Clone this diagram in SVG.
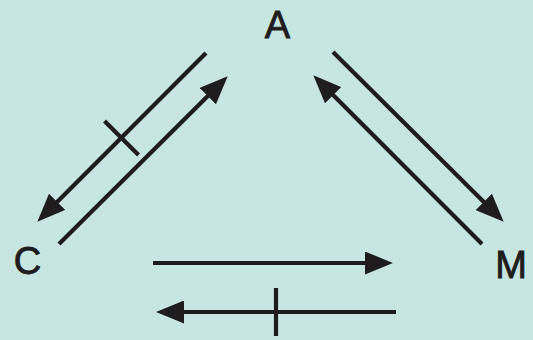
<svg xmlns="http://www.w3.org/2000/svg" width="533" height="340" viewBox="0 0 533 340">
  <style>
    .lbl { font-family: "Liberation Sans", Arial, sans-serif; font-size: 38px; fill: #1e1c1d; stroke: #1e1c1d; stroke-width: 0.9px; text-anchor: middle; }
    .edge { stroke: #1e1c1d; stroke-width: 4.2; fill: none; }
    .arrow { marker-end: url(#head); }
  </style>
  <defs>
    <marker id="head" markerUnits="userSpaceOnUse" markerWidth="29" markerHeight="23" refX="17" refY="11.5" orient="auto">
      <path d="M0,0 L28,11.5 L0,23 Z" fill="#1e1c1d"/>
    </marker>
  </defs>
  <rect x="0" y="0" width="533" height="340" fill="#c7e6e2"/>
  <g id="node-A"><text class="lbl" x="277.5" y="38">A</text></g>
  <g id="node-C"><text class="lbl" x="27.5" y="274">C</text></g>
  <g id="node-M"><text class="lbl" x="511" y="278">M</text></g>
  <g id="connectors">
    <line class="edge arrow" x1="206" y1="53" x2="45.1" y2="213.9"/>
    <line class="edge" x1="104.5" y1="121" x2="138.5" y2="155"/>
    <line class="edge arrow" x1="59" y1="244" x2="219.9" y2="84.1"/>
    <line class="edge arrow" x1="333" y1="52" x2="495.9" y2="213.9"/>
    <line class="edge arrow" x1="482" y1="244" x2="321.1" y2="83.1"/>
    <line class="edge arrow" x1="153" y1="263" x2="382" y2="263"/>
    <line class="edge arrow" x1="396" y1="312" x2="167" y2="312"/>
    <line class="edge" x1="276" y1="288" x2="276" y2="336"/>
  </g>
</svg>
